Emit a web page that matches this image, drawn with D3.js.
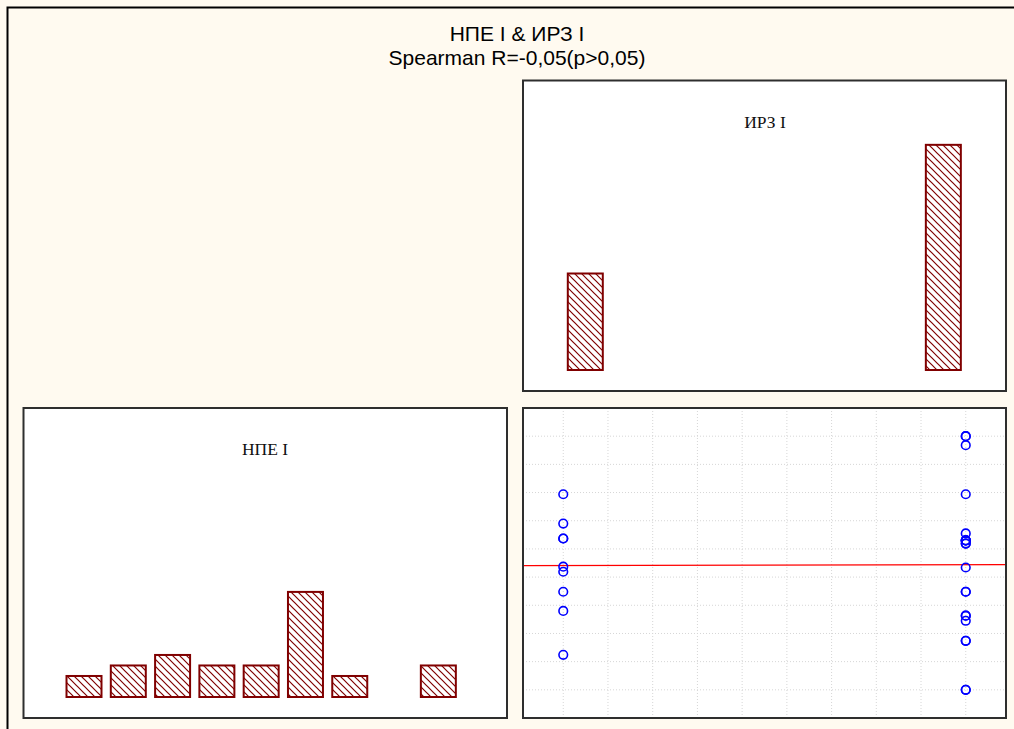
<!DOCTYPE html>
<html>
<head>
<meta charset="utf-8">
<script src="https://cdn.jsdelivr.net/npm/d3@7"></script>
<style>
  html, body { margin: 0; padding: 0; background: #fffaf0; overflow: hidden; }
  svg { display: block; }
</style>
</head>
<body>
<svg id="chart" width="1014" height="729"></svg>
<script>
// НПЕ I scores for each subject, grouped by ИРЗ I group
const irzGroups = [1, 2];
const npeGroup1 = [6.94, 5.90, 5.37, 5.37, 4.37, 4.19, 3.48, 2.80, 1.24];
const npeGroup2 = [9.00, 9.00, 8.68, 6.94, 5.55, 5.30, 5.30, 5.30, 5.19, 5.19, 5.30,
                   4.34, 3.48, 3.48, 2.63, 2.63, 2.45, 1.74, 1.74, 0.00, 0.00];
const npeBinEdges = [0, 1, 2, 3, 4, 5, 6, 7, 8, 9];

const titleLines = ["НПЕ I & ИРЗ I", "Spearman R=-0,05(p>0,05)"];
const npeTitle = "НПЕ I";
const irzTitle = "ИРЗ I";

// Paired observations (x = ИРЗ I group, y = НПЕ I)
const points = [
  ...npeGroup1.map(v => ({ x: irzGroups[0], y: v })),
  ...npeGroup2.map(v => ({ x: irzGroups[1], y: v }))
];

const svg = d3.select("#chart");
const barColor = "#800000";

// Diagonal hatch used for histogram bars
const defs = svg.append("defs");
const hatch = defs.append("pattern")
  .attr("id", "hatch")
  .attr("patternUnits", "userSpaceOnUse")
  .attr("width", 7).attr("height", 7);
hatch.append("rect").attr("width", 7).attr("height", 7).attr("fill", "#fff");
hatch.append("path")
  .attr("d", "M0,0L7,7M-1,6L1,8M6,-1L8,1")
  .attr("stroke", barColor).attr("stroke-width", 1.2);

// Outer frame (runs off the right and bottom edges)
svg.append("rect")
  .attr("x", 7.5).attr("y", 7.5)
  .attr("width", 1100).attr("height", 800)
  .attr("fill", "#fffaf0")
  .attr("stroke", "#000").attr("stroke-width", 2);

// Title
svg.append("text")
  .attr("x", 517).attr("y", 41)
  .attr("text-anchor", "middle")
  .attr("font-family", "Liberation Sans, Arial, sans-serif")
  .attr("font-size", 21)
  .selectAll("tspan").data(titleLines).join("tspan")
  .attr("x", 517).attr("dy", (d, i) => i === 0 ? 0 : 24)
  .text(d => d);

// Panel boxes
const panels = {
  irz:     { x: 523, y: 80.5, w: 483, h: 310.5 },
  npe:     { x: 23.5, y: 408, w: 483.5, h: 310 },
  scatter: { x: 523, y: 408, w: 483, h: 310 }
};
function panelBox(p) {
  svg.append("rect")
    .attr("x", p.x).attr("y", p.y).attr("width", p.w).attr("height", p.h)
    .attr("fill", "#fff");
}
function panelBorder(p) {
  svg.append("rect")
    .attr("x", p.x).attr("y", p.y).attr("width", p.w).attr("height", p.h)
    .attr("fill", "none").attr("stroke", "#2e2e2e").attr("stroke-width", 2);
}
Object.values(panels).forEach(panelBox);

// ---- ИРЗ I histogram (top right) ----
{
  const p = panels.irz;
  const x = d3.scaleLinear().domain([0.826, 2.175]).range([p.x, p.x + p.w]);
  const y = d3.scaleLinear().domain([0, 27]).range([370, p.y]);
  const counts = irzGroups.map(g => ({ g, n: points.filter(d => d.x === g).length }));
  const bw = 35;
  svg.append("g").selectAll("rect").data(counts).join("rect")
    .attr("x", d => x(d.g) - bw / 2)
    .attr("y", d => y(d.n))
    .attr("width", bw)
    .attr("height", d => y(0) - y(d.n))
    .attr("fill", "url(#hatch)")
    .attr("stroke", barColor).attr("stroke-width", 2);
  svg.append("text")
    .attr("x", 765).attr("y", 128)
    .attr("text-anchor", "middle")
    .attr("font-family", "Liberation Serif, Times New Roman, serif")
    .attr("font-size", 17.5).attr("fill", "#111")
    .text(irzTitle);
}

// ---- НПЕ I histogram (bottom left) ----
{
  const p = panels.npe;
  const x = d3.scaleLinear().domain([-0.866, 10.05]).range([p.x, p.x + p.w]);
  const y = d3.scaleLinear().domain([0, 27.5]).range([697, p.y]);
  const bins = d3.bin()
    .domain([npeBinEdges[0], npeBinEdges[npeBinEdges.length - 1]])
    .thresholds(npeBinEdges.slice(1, -1))(points.map(d => d.y));
  const pad = 0.105;
  svg.append("g").selectAll("rect").data(bins.filter(b => b.length > 0)).join("rect")
    .attr("x", b => x(b.x0 + pad))
    .attr("y", b => y(b.length))
    .attr("width", b => x(b.x1 - pad) - x(b.x0 + pad))
    .attr("height", b => y(0) - y(b.length))
    .attr("fill", "url(#hatch)")
    .attr("stroke", barColor).attr("stroke-width", 2);
  svg.append("text")
    .attr("x", 265).attr("y", 455)
    .attr("text-anchor", "middle")
    .attr("font-family", "Liberation Serif, Times New Roman, serif")
    .attr("font-size", 17.5).attr("fill", "#111")
    .text(npeTitle);
}

// ---- Scatter plot with regression line (bottom right) ----
{
  const p = panels.scatter;
  const x = d3.scaleLinear().domain([0.9, 2.1]).range([p.x, p.x + p.w]);
  const y = d3.scaleLinear().domain([-1, 10]).range([p.y + p.h, p.y]);
  const clipId = "scatterClip";
  defs.append("clipPath").attr("id", clipId)
    .append("rect").attr("x", p.x).attr("y", p.y).attr("width", p.w).attr("height", p.h);
  const g = svg.append("g").attr("clip-path", `url(#${clipId})`);

  const xGrid = d3.range(0, 10).map(i => irzGroups[0] + i * (irzGroups[1] - irzGroups[0]) / 9);
  const yGrid = d3.range(0, 11);
  g.append("g").selectAll("line").data(xGrid).join("line")
    .attr("x1", d => x(d)).attr("x2", d => x(d))
    .attr("y1", p.y).attr("y2", p.y + p.h)
    .attr("stroke", "#d6d6d6").attr("stroke-width", 1).attr("stroke-dasharray", "1,2");
  g.append("g").selectAll("line").data(yGrid).join("line")
    .attr("x1", p.x).attr("x2", p.x + p.w)
    .attr("y1", d => y(d)).attr("y2", d => y(d))
    .attr("stroke", "#d6d6d6").attr("stroke-width", 1).attr("stroke-dasharray", "1,2");

  // Least-squares fit of НПЕ I on ИРЗ I
  const mx = d3.mean(points, d => d.x), my = d3.mean(points, d => d.y);
  const slope = d3.sum(points, d => (d.x - mx) * (d.y - my)) / d3.sum(points, d => (d.x - mx) ** 2);
  const icpt = my - slope * mx;
  const xd = x.domain();
  g.append("line")
    .attr("x1", x(xd[0])).attr("x2", x(xd[1]))
    .attr("y1", y(icpt + slope * xd[0])).attr("y2", y(icpt + slope * xd[1]))
    .attr("stroke", "#ff0000").attr("stroke-width", 1.3);

  g.append("g").selectAll("circle").data(points).join("circle")
    .attr("cx", d => x(d.x)).attr("cy", d => y(d.y)).attr("r", 4.3)
    .attr("fill", "none").attr("stroke", "#0000ff").attr("stroke-width", 1.6);
}

Object.values(panels).forEach(panelBorder);
</script>
</body>
</html>
